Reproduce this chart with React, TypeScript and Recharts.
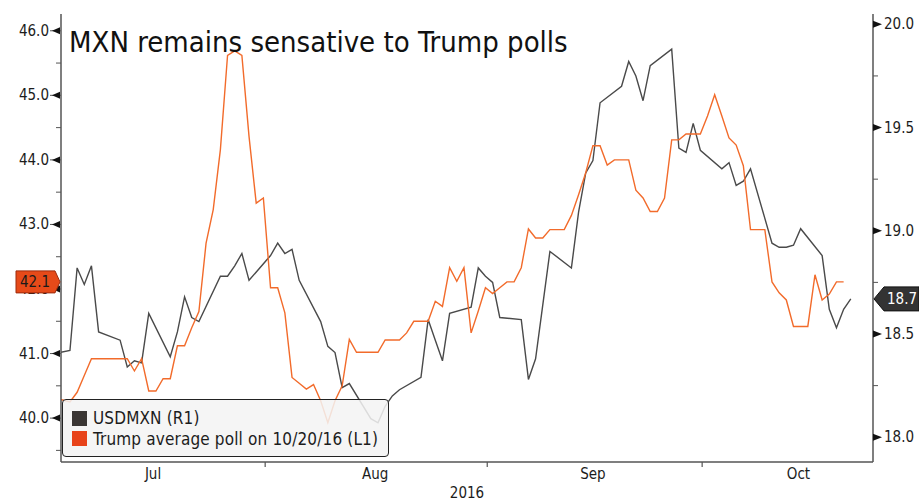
import { Line, LineChart, ReferenceDot, XAxis, YAxis } from 'recharts';

// days counted from Jul 1 2016 (0 = Jul 1)
const usdDays = [
    0, 3, 4, 5, 6, 7, 10, 11, 12, 13, 14, 17, 18, 19, 20, 21, 24, 25, 26, 27, 28,
    31, 32, 33, 34, 35, 38, 39, 40, 41, 42, 45, 46, 47, 48, 49, 52, 53, 54, 55, 56,
    59, 60, 61, 62, 63, 66, 67, 68, 69, 70, 73, 74, 75, 76, 77, 80, 81, 82, 83, 84,
    87, 88, 89, 90, 91, 94, 95, 96, 97, 98, 101, 102, 103, 104, 105, 108, 109, 110, 111, 112,
];
const usdValues = [
    18.4,
    18.42, 18.82, 18.74, 18.83, 18.51,
    18.47, 18.34, 18.37, 18.36, 18.6,
    18.39, 18.51, 18.68, 18.58, 18.56,
    18.78, 18.78, 18.83, 18.89, 18.76,
    18.88, 18.94, 18.89, 18.91, 18.76,
    18.56, 18.44, 18.41, 18.24, 18.26,
    18.09, 18.07, 18.15, 18.2, 18.23,
    18.29, 18.57, 18.47, 18.37, 18.6,
    18.63, 18.82, 18.78, 18.75, 18.58,
    18.57, 18.28, 18.38, 18.64, 18.9,
    18.82, 19.09, 19.28, 19.34, 19.62,
    19.7, 19.82, 19.75, 19.63, 19.8,
    19.88, 19.4, 19.38, 19.52, 19.39,
    19.3, 19.33, 19.22, 19.24, 19.3,
    18.94, 18.92, 18.92, 18.93, 19.01,
    18.88, 18.62, 18.53, 18.62, 18.67,
];

// daily poll average, Jul 1 .. Oct 20
const pollValues = [
    40.3, 40.3, 40.28, 40.25, 40.4, 40.66, 40.92, 40.92, 40.92, 40.92,
    40.92, 40.92, 40.73, 40.92, 40.42, 40.42, 40.61, 40.61, 41.12, 41.12,
    41.4, 41.65, 42.71, 43.23, 44.16, 45.62, 45.69, 45.62, 44.36, 43.33,
    43.41, 42.02, 42.02, 41.63, 40.63, 40.54, 40.45, 40.52, 40.27, 39.93,
    40.27, 40.5, 41.22, 41.02, 41.02, 41.02, 41.02, 41.21, 41.21, 41.21,
    41.32, 41.5, 41.5, 41.5, 41.81, 41.73, 42.33, 42.12, 42.33, 41.32,
    41.66, 42.02, 41.93, 42.02, 42.11, 42.11, 42.33, 42.93, 42.79, 42.79,
    42.92, 42.92, 42.92, 43.14, 43.46, 43.8, 44.22, 44.22, 43.92, 44.0,
    44.0, 44.0, 43.53, 43.41, 43.2, 43.2, 43.41, 44.31, 44.31, 44.4,
    44.4, 44.4, 44.68, 45.01, 44.68, 44.34, 44.23, 43.91, 42.92, 42.92,
    42.92, 42.11, 41.94, 41.83, 41.42, 41.42, 41.42, 42.22, 41.83, 41.92,
    42.11, 42.11,
];
const pollDays = pollValues.map((_, i) => i);

const monthNames = ['Jul', 'Aug', 'Sep', 'Oct'];
const monthLabelDays = [14.6, 45.6, 76, 104.7];
const monthBoundaryDays = [30.25, 61.25, 91.25];
const leftTicks = [39.5, 40, 40.5, 41, 41.5, 42, 42.5, 43, 43.5, 44, 44.5, 45, 45.5, 46];
const rightTicks = [18, 18.25, 18.5, 18.75, 19, 19.25, 19.5, 19.75, 20];

const usdData = usdDays.map((day, i) => ({ day, usd: usdValues[i] }));
const pollData = pollDays.map((day, i) => ({ day, poll: pollValues[i] }));

const FONT = "'DejaVu Sans Condensed', 'DejaVu Sans', sans-serif";
const TEXT = '#1c1c1c';
const AXIS = '#555';
const USD_COLOR = '#4a4a4a';
const POLL_COLOR = '#f26b2b';

const legendItems = [
    { label: 'USDMXN (R1)', swatch: '#3a3634' },
    { label: 'Trump average poll on 10/20/16 (L1)', swatch: '#e8431a' },
];

function LeftTick(props: any) {
    const { y, payload } = props;
    const v = payload.value as number;
    if (!Number.isInteger(v)) {
        return <line x1={56} x2={61} y1={y} y2={y} stroke={AXIS} strokeWidth={1} />;
    }
    return (
        <g>
            <line x1={50} x2={61} y1={y} y2={y} stroke={AXIS} strokeWidth={1} />
            <polygon points={`${52},${y} ${60},${y - 3.5} ${60},${y + 3.5}`} fill="#111" />
            <text x={49} y={y} textAnchor="end" dominantBaseline="central" fontFamily={FONT} fontStretch="condensed" fontSize={15} fill={TEXT}>
                {v.toFixed(1)}
            </text>
        </g>
    );
}

function RightTick(props: any) {
    const { y, payload } = props;
    const v = payload.value as number;
    if (Math.abs(v * 2 - Math.round(v * 2)) > 0.001) {
        return <line x1={873} x2={878} y1={y} y2={y} stroke={AXIS} strokeWidth={1} />;
    }
    return (
        <g>
            <polygon points={`${873},${y - 3.5} ${873},${y + 3.5} ${882},${y}`} fill="#111" />
            <text x={884} y={y} textAnchor="start" dominantBaseline="central" fontFamily={FONT} fontStretch="condensed" fontSize={15} fill={TEXT}>
                {v.toFixed(1)}
            </text>
        </g>
    );
}

function MonthTick(props: any) {
    const { x, payload } = props;
    const v = payload.value as number;
    const bi = monthBoundaryDays.indexOf(v);
    if (bi >= 0) {
        return <line x1={x} x2={x} y1={462} y2={467} stroke={AXIS} strokeWidth={1.2} />;
    }
    const li = monthLabelDays.indexOf(v);
    return (
        <text x={x} y={474} textAnchor="middle" dominantBaseline="central" fontFamily={FONT} fontStretch="condensed" fontSize={15} fill={TEXT}>
            {monthNames[li]}
        </text>
    );
}

function LeftBadge(props: any) {
    const cy = props.cy as number;
    const last = pollValues[pollValues.length - 1];
    return (
        <g>
            <polygon
                points={`16,${cy - 11} 55,${cy - 11} 60,${cy} 55,${cy + 11} 16,${cy + 11}`}
                fill="#e64a19"
                stroke="#9c2a0c"
                strokeWidth={1}
            />
            <text x={20} y={cy} dominantBaseline="central" fontFamily={FONT} fontStretch="condensed" fontSize={15} fill="#1a1a1a">
                {last.toFixed(1)}
            </text>
        </g>
    );
}

function RightBadge(props: any) {
    const cy = props.cy as number;
    const last = usdValues[usdValues.length - 1];
    return (
        <g>
            <polygon
                points={`874,${cy} 884,${cy - 12} 919,${cy - 12} 919,${cy + 12} 884,${cy + 12}`}
                fill="#333"
                stroke="#111"
                strokeWidth={1}
            />
            <text x={887} y={cy} dominantBaseline="central" fontFamily={FONT} fontStretch="condensed" fontSize={15} fill="#fff">
                {last.toFixed(1)}
            </text>
        </g>
    );
}

export default function App() {
    return (
        <div style={{ position: 'absolute', left: 0, top: 0, width: 919, height: 503, background: '#fff', fontFamily: FONT, fontStretch: 'condensed' }}>
            <LineChart width={919} height={503} margin={{ top: 14, right: 0, bottom: 0, left: 0 }}>
                <XAxis
                    dataKey="day"
                    type="number"
                    domain={[1.75, 115.1]}
                    allowDataOverflow
                    ticks={[...monthLabelDays, ...monthBoundaryDays].sort((a, b) => a - b)}
                    interval={0}
                    height={41}
                    axisLine={{ stroke: AXIS, strokeWidth: 1.5 }}
                    tickLine={false}
                    tick={(p: any) => <MonthTick {...p} />}
                />
                <YAxis
                    yAxisId="left"
                    orientation="left"
                    width={61}
                    domain={[39.32, 46.26]}
                    allowDataOverflow
                    ticks={leftTicks}
                    interval={0}
                    axisLine={{ stroke: AXIS, strokeWidth: 1.5 }}
                    tickLine={false}
                    tick={(p: any) => <LeftTick {...p} />}
                />
                <YAxis
                    yAxisId="right"
                    orientation="right"
                    width={46}
                    domain={[17.88, 20.05]}
                    allowDataOverflow
                    ticks={rightTicks}
                    interval={0}
                    axisLine={{ stroke: AXIS, strokeWidth: 1.5 }}
                    tickLine={false}
                    tick={(p: any) => <RightTick {...p} />}
                />
                <Line
                    data={usdData}
                    yAxisId="right"
                    dataKey="usd"
                    stroke={USD_COLOR}
                    strokeWidth={1.4}
                    dot={false}
                    isAnimationActive={false}
                />
                <Line
                    data={pollData}
                    yAxisId="left"
                    dataKey="poll"
                    stroke={POLL_COLOR}
                    strokeWidth={1.4}
                    dot={false}
                    isAnimationActive={false}
                />
                <ReferenceDot
                    yAxisId="left"
                    x={pollDays[pollDays.length - 1]}
                    y={pollValues[pollValues.length - 1]}
                    zIndex={3000}
                    shape={(p: any) => <LeftBadge {...p} />}
                />
                <ReferenceDot
                    yAxisId="right"
                    x={usdDays[usdDays.length - 1]}
                    y={usdValues[usdValues.length - 1]}
                    zIndex={3000}
                    shape={(p: any) => <RightBadge {...p} />}
                />
            </LineChart>

            <div style={{ position: 'absolute', left: 69, top: 26, fontSize: 29, lineHeight: '32px', color: '#111', whiteSpace: 'nowrap' }}>
                MXN remains sensative to Trump polls
            </div>

            <div
                style={{
                    position: 'absolute',
                    left: 62,
                    top: 399,
                    width: 327,
                    height: 58,
                    boxSizing: 'border-box',
                    border: '1.5px solid #222',
                    borderRadius: 4,
                    background: 'rgba(243,243,243,0.86)',
                }}
            >
                {legendItems.map((item, i) => (
                    <div key={item.label} style={{ position: 'absolute', left: 9, top: 10 + i * 20.5, display: 'flex', alignItems: 'center', height: 16 }}>
                        <div style={{ width: 15, height: 15, background: item.swatch }} />
                        <span style={{ marginLeft: 6, fontSize: 17, letterSpacing: 0.15, color: TEXT, whiteSpace: 'nowrap' }}>{item.label}</span>
                    </div>
                ))}
            </div>

            <div style={{ position: 'absolute', left: 467, top: 484, transform: 'translateX(-50%)', fontSize: 15, lineHeight: '18px', color: TEXT }}>
                2016
            </div>
        </div>
    );
}
